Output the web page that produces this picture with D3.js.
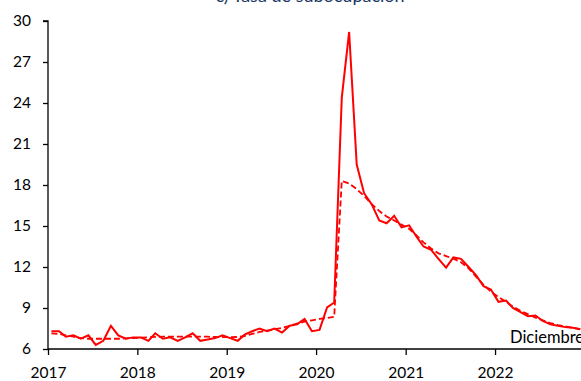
<!DOCTYPE html>
<html>
<head>
<meta charset="utf-8">
<script src="https://cdn.jsdelivr.net/npm/d3@7"></script>
<style>
  html, body { margin: 0; padding: 0; background: #fff; }
  svg { display: block; }
</style>
</head>
<body>
<div id="chart"></div>
<script>
// ---- Data ----
const titleText = "c) Tasa de subocupación";
const noteText = "Diciembre";
const startYear = 2017;
const years = [2017, 2018, 2019, 2020, 2021, 2022];
const yTicks = [6, 9, 12, 15, 18, 21, 24, 27, 30];

// Monthly series (solid), Jan 2017 – Dec 2022
const serieMensual = [
  7.3, 7.3, 6.9, 7.0, 6.75, 7.0, 6.3, 6.6, 7.7, 7.0, 6.75, 6.85,
  6.85, 6.6, 7.15, 6.75, 6.85, 6.6, 6.85, 7.15, 6.6, 6.7, 6.8, 7.0,
  6.8, 6.6, 7.05, 7.3, 7.5, 7.3, 7.5, 7.2, 7.7, 7.8, 8.2, 7.3,
  7.4, 9.05, 9.4, 24.4, 29.2, 19.5, 17.4, 16.6, 15.4, 15.2, 15.75, 14.9,
  15.05, 14.2, 13.5, 13.25, 12.6, 11.95, 12.7, 12.6, 12.0, 11.4, 10.6, 10.35,
  9.45, 9.55, 9.0, 8.7, 8.4, 8.45, 8.05, 7.8, 7.7, 7.6, 7.55, 7.45
];
// Trend series (dashed)
const serieTendencia = [
  7.15, 7.1, 7.0, 6.9, 6.8, 6.75, 6.75, 6.75, 6.75, 6.75, 6.78, 6.8,
  6.83, 6.86, 6.88, 6.9, 6.9, 6.9, 6.9, 6.9, 6.9, 6.9, 6.88, 6.87,
  6.86, 6.88, 6.95, 7.1, 7.25, 7.35, 7.45, 7.55, 7.7, 7.85, 8.0, 8.1,
  8.2, 8.27, 8.35, 18.3, 18.1, 17.7, 17.2, 16.6, 16.1, 15.7, 15.4, 15.1,
  14.8, 14.3, 13.8, 13.35, 13.0, 12.8, 12.6, 12.35, 11.9, 11.3, 10.7, 10.2,
  9.8, 9.45, 9.1, 8.8, 8.55, 8.3, 8.1, 7.9, 7.75, 7.65, 7.55, 7.45
];

// ---- Layout ----
const W = 581, H = 381;
const font = "Lato, 'Liberation Sans', Arial, sans-serif";

const svg = d3.select("#chart").append("svg")
  .attr("width", W).attr("height", H);

const dates = serieMensual.map((_, i) => new Date(startYear, i, 15));

const x = d3.scaleTime()
  .domain([new Date(2017, 0, 1), new Date(2023, 0, 1)])
  .range([48, 48 + 6 * 89.4]);
const y = d3.scaleLinear().domain([6, 30]).range([349, 21]);

// Title (partially cut at top, as in the reference crop)
svg.append("text")
  .attr("x", 310).attr("y", 2)
  .attr("text-anchor", "middle")
  .attr("font-family", font)
  .attr("font-size", 18)
  .attr("fill", "#203864")
  .text(titleText);

// Y axis
const yAxis = d3.axisLeft(y).tickValues(yTicks).tickSize(5).tickPadding(12)
  .tickFormat(d3.format("d"));
const gy = svg.append("g").attr("transform", "translate(48,0)").call(yAxis);
gy.select(".domain").attr("stroke", "#000").attr("stroke-width", 1.3)
  .attr("d", `M-5,${y(30)}H0V${y(6)}`);
gy.selectAll(".tick line").attr("stroke", "#000").attr("stroke-width", 1.3);
gy.selectAll(".tick text").attr("font-family", font).attr("font-size", 15.5).attr("fill", "#000");

// X axis
const xAxis = d3.axisBottom(x)
  .tickValues(years.map(yr => new Date(yr, 0, 1)))
  .tickSize(6).tickPadding(12)
  .tickFormat(d3.timeFormat("%Y"));
const gx = svg.append("g").attr("transform", `translate(0,${y(6)})`).call(xAxis);
gx.select(".domain").attr("stroke", "#000").attr("stroke-width", 1.3)
  .attr("d", `M48,0H${W}`);
gx.selectAll(".tick line").attr("stroke", "#000").attr("stroke-width", 1.3);
gx.selectAll(".tick text").attr("font-family", font).attr("font-size", 15.5).attr("fill", "#000");

// Lines
const line = d3.line().x((d, i) => x(dates[i])).y(d => y(d));

svg.append("path").datum(serieTendencia)
  .attr("d", line)
  .attr("fill", "none").attr("stroke", "#ff0000")
  .attr("stroke-width", 1.8).attr("stroke-dasharray", "6,3");

svg.append("path").datum(serieMensual)
  .attr("d", line)
  .attr("fill", "none").attr("stroke", "#ff0000")
  .attr("stroke-width", 2).attr("stroke-linejoin", "miter");

// Note (runs past the right edge, as in the reference crop)
svg.append("text")
  .attr("x", 510).attr("y", 343)
  .attr("font-family", font).attr("font-size", 16.5).attr("fill", "#000")
  .text(noteText);
</script>
</body>
</html>
